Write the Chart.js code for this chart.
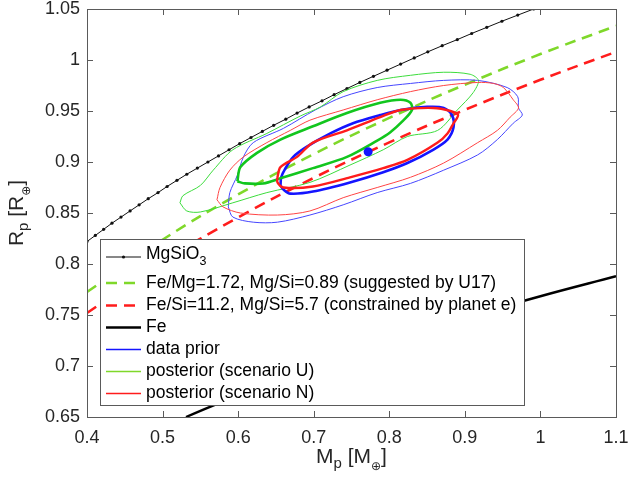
<!DOCTYPE html>
<html lang="en">
<head>
<meta charset="UTF-8">
<title>Mass-radius</title>
<script src="https://cdn.jsdelivr.net/npm/chart.js"></script>
<style>
  html, body { margin: 0; padding: 0; background: #fff; }
  #wrap { width: 629px; height: 482px; }
</style>
</head>
<body>
<div id="wrap"><canvas id="mr" width="629" height="482"></canvas></div>
<script>
// axis ticks
const xTicks = [0.4, 0.5, 0.6, 0.7, 0.8, 0.9, 1.0, 1.1];
const xTickLabels = ['0.4', '0.5', '0.6', '0.7', '0.8', '0.9', '1', '1.1'];
const yTicks = [0.65, 0.7, 0.75, 0.8, 0.85, 0.9, 0.95, 1.0, 1.05];
const yTickLabels = ['0.65', '0.7', '0.75', '0.8', '0.85', '0.9', '0.95', '1', '1.05'];

// MgSiO3 curve (dotted markers)
const massMgSiO3 = [0.400, 0.411, 0.422, 0.433, 0.445, 0.457, 0.469, 0.481, 0.494, 0.506, 0.519, 0.532, 0.546,
  0.560, 0.574, 0.588, 0.602, 0.617, 0.632, 0.647, 0.663, 0.678, 0.694, 0.711, 0.727, 0.744, 0.761, 0.779,
  0.797, 0.815, 0.833, 0.851, 0.870, 0.890, 0.909, 0.929, 0.949, 0.970, 0.991];
const radiusMgSiO3 = [0.822, 0.828, 0.834, 0.840, 0.846, 0.852, 0.858, 0.864, 0.870, 0.876, 0.882, 0.888, 0.894,
  0.900, 0.906, 0.912, 0.918, 0.924, 0.930, 0.936, 0.942, 0.948, 0.954, 0.960, 0.966, 0.972, 0.978, 0.984,
  0.990, 0.996, 1.002, 1.008, 1.014, 1.020, 1.026, 1.032, 1.038, 1.044, 1.050];

// composition models
const massModel = [0.4, 0.5, 0.6, 0.7, 0.8, 0.9, 1.0, 1.1];
const radiusFeMg = [0.7725, 0.8238, 0.8682, 0.9078, 0.9432, 0.9758, 1.0058, 1.0335];
const radiusFeSi = [0.752, 0.8022, 0.8457, 0.8844, 0.9192, 0.9511, 0.9806, 1.008];
const massFe = [0.531, 0.6, 0.7, 0.8, 0.9, 1.0, 1.1];
const radiusFe = [0.65, 0.6713, 0.6993, 0.7243, 0.7473, 0.7684, 0.788];

// contours: data prior (blue)
const priorOuterM = [0.587, 0.589, 0.599, 0.607, 0.620, 0.660, 0.702, 0.739, 0.784, 0.828, 0.872, 0.917, 0.956,
  0.970, 0.971, 0.976, 0.964, 0.943, 0.917, 0.872, 0.828, 0.784, 0.739, 0.695, 0.652, 0.620, 0.593, 0.587];
const priorOuterR = [0.856, 0.870, 0.887, 0.905, 0.919, 0.933, 0.951, 0.964, 0.973, 0.977, 0.980, 0.980, 0.973,
  0.964, 0.953, 0.946, 0.938, 0.922, 0.907, 0.892, 0.879, 0.870, 0.858, 0.848, 0.841, 0.841, 0.846, 0.856];
const priorInnerM = [0.656, 0.657, 0.662, 0.673, 0.691, 0.722, 0.752, 0.788, 0.815, 0.850, 0.872, 0.883, 0.885,
  0.877, 0.858, 0.824, 0.792, 0.748, 0.699, 0.669, 0.660, 0.656];
const priorInnerR = [0.877, 0.885, 0.893, 0.905, 0.915, 0.928, 0.938, 0.946, 0.951, 0.954, 0.953, 0.946, 0.934,
  0.922, 0.912, 0.899, 0.890, 0.880, 0.871, 0.869, 0.873, 0.877];

// contours: posterior scenario U (green)
const postUOuterM = [0.523, 0.527, 0.550, 0.567, 0.593, 0.638, 0.682, 0.709, 0.739, 0.784, 0.828, 0.872, 0.907,
  0.918, 0.911, 0.890, 0.864, 0.824, 0.792, 0.748, 0.695, 0.638, 0.593, 0.550, 0.532, 0.523];
const postUOuterR = [0.860, 0.867, 0.877, 0.892, 0.912, 0.928, 0.945, 0.954, 0.969, 0.980, 0.985, 0.988, 0.986,
  0.980, 0.968, 0.951, 0.931, 0.925, 0.912, 0.897, 0.880, 0.870, 0.860, 0.851, 0.852, 0.860];
const postUInnerM = [0.599, 0.603, 0.625, 0.656, 0.699, 0.744, 0.788, 0.815, 0.828, 0.830, 0.819, 0.801, 0.784,
  0.744, 0.699, 0.656, 0.633, 0.609, 0.599];
const postUInnerR = [0.881, 0.895, 0.909, 0.922, 0.935, 0.948, 0.958, 0.961, 0.958, 0.951, 0.941, 0.929, 0.921,
  0.905, 0.894, 0.884, 0.879, 0.879, 0.881];

// contours: posterior scenario N (red)
const postNOuterM = [0.572, 0.576, 0.589, 0.607, 0.638, 0.669, 0.695, 0.739, 0.784, 0.828, 0.872, 0.917, 0.938,
  0.951, 0.964, 0.971, 0.960, 0.943, 0.917, 0.872, 0.828, 0.784, 0.739, 0.695, 0.652, 0.603, 0.580, 0.572];
const postNOuterR = [0.863, 0.875, 0.892, 0.905, 0.919, 0.931, 0.941, 0.951, 0.961, 0.969, 0.975, 0.978, 0.977,
  0.973, 0.961, 0.953, 0.944, 0.931, 0.919, 0.899, 0.885, 0.875, 0.865, 0.852, 0.848, 0.850, 0.856, 0.863];
const postNInnerM = [0.652, 0.656, 0.678, 0.699, 0.744, 0.788, 0.815, 0.858, 0.881, 0.891, 0.885, 0.877, 0.864,
  0.824, 0.792, 0.748, 0.699, 0.660, 0.652, 0.652];
const postNInnerR = [0.885, 0.895, 0.905, 0.919, 0.931, 0.944, 0.951, 0.953, 0.950, 0.946, 0.938, 0.928, 0.919,
  0.902, 0.894, 0.885, 0.876, 0.875, 0.880, 0.885];

// measured planet
const planetM = [0.772];
const planetR = [0.910];

const FONT = "'Liberation Sans', Arial, 'DejaVu Sans', sans-serif";
const INK = '#262626';
const LIME = '#7fd82a';
const RED = '#ff1c1c';
const BLUE = '#1414ff';
const GREEN = '#12c61e';

function pts(xs, ys) {
  return xs.map((x, i) => ({ x: x, y: ys[i] }));
}

function line(xs, ys, color, width, extra) {
  return Object.assign({
    data: pts(xs, ys),
    showLine: true,
    borderColor: color,
    backgroundColor: color,
    borderWidth: width,
    pointRadius: 0,
    tension: 0.3,
    clip: 0
  }, extra || {});
}

// bottom to top, reversed below so the last one ends up on top
const layers = [
  line(massMgSiO3, radiusMgSiO3, '#111', 1, { pointRadius: 1.6, pointBackgroundColor: '#111', pointBorderWidth: 0, tension: 0 }),
  line(massModel, radiusFeMg, LIME, 2.6, { borderDash: [11, 7], tension: 0.4 }),
  line(massModel, radiusFeSi, RED, 2.6, { borderDash: [11, 7], tension: 0.4 }),
  line(massFe, radiusFe, '#000', 2.4, { tension: 0.4 }),
  line(priorOuterM, priorOuterR, '#4646ff', 1),
  line(postUOuterM, postUOuterR, '#3cdc3c', 1),
  line(postNOuterM, postNOuterR, '#ff4444', 1),
  line(priorInnerM, priorInnerR, BLUE, 2.6),
  line(postUInnerM, postUInnerR, GREEN, 2.6),
  line(postNInnerM, postNInnerR, RED, 2.4),
  { data: pts(planetM, planetR), pointRadius: 4.5, pointBackgroundColor: BLUE, pointBorderWidth: 0, showLine: false }
];

// legend rows
const legendItems = [
  { parts: [{ t: 'MgSiO' }, { t: '3', sub: true }], color: '#111', width: 1, dot: true, y: 257 },
  { parts: [{ t: 'Fe/Mg=1.72, Mg/Si=0.89 (suggested by U17)' }], color: LIME, width: 2.6, dash: [11, 7], y: 283 },
  { parts: [{ t: 'Fe/Si=11.2, Mg/Si=5.7 (constrained by planet e)' }], color: RED, width: 2.6, dash: [11, 7], y: 305.5 },
  { parts: [{ t: 'Fe' }], color: '#000', width: 2.4, y: 327.5 },
  { parts: [{ t: 'data prior' }], color: BLUE, width: 1.5, y: 349.5 },
  { parts: [{ t: 'posterior (scenario U)' }], color: LIME, width: 1.5, y: 371.5 },
  { parts: [{ t: 'posterior (scenario N)' }], color: RED, width: 1.5, y: 393.5 }
];

function richWidth(ctx, parts) {
  let w = 0;
  parts.forEach(p => {
    ctx.font = p.size + 'px ' + FONT;
    w += ctx.measureText(p.t).width;
  });
  return w;
}

function drawRich(ctx, parts, x, y) {
  parts.forEach(p => {
    ctx.font = p.size + 'px ' + FONT;
    ctx.fillText(p.t, x, y + (p.dy || 0));
    x += ctx.measureText(p.t).width;
  });
}

const frame = {
  id: 'frame',
  afterDatasetsDraw(chart) {
    const ctx = chart.ctx;
    const a = chart.chartArea;
    const xs = chart.scales.x, ys = chart.scales.y;
    ctx.save();

    // legend box
    const L = { left: 100, top: 239, right: 524, bottom: 405 };
    ctx.fillStyle = '#fff';
    ctx.fillRect(L.left, L.top, L.right - L.left, L.bottom - L.top);
    ctx.strokeStyle = '#5a5a5a';
    ctx.lineWidth = 1;
    ctx.strokeRect(L.left + 0.5, L.top + 0.5, L.right - L.left, L.bottom - L.top);
    legendItems.forEach(it => {
      ctx.beginPath();
      ctx.strokeStyle = it.color;
      ctx.lineWidth = it.width;
      ctx.setLineDash(it.dash || []);
      ctx.moveTo(106, it.y);
      ctx.lineTo(141, it.y);
      ctx.stroke();
      ctx.setLineDash([]);
      if (it.dot) {
        ctx.beginPath();
        ctx.fillStyle = it.color;
        ctx.arc(123.5, it.y, 1.6, 0, Math.PI * 2);
        ctx.fill();
      }
      ctx.fillStyle = '#000';
      ctx.textAlign = 'left';
      ctx.textBaseline = 'middle';
      const parts = it.parts.map(p => p.sub ? { t: p.t, size: 12.5, dy: 5 } : { t: p.t, size: 17.5, dy: it.dot ? -3 : 0 });
      drawRich(ctx, parts, 146, it.y);
    });

    // axes box
    ctx.strokeStyle = '#5a5a5a';
    ctx.lineWidth = 1;
    ctx.strokeRect(Math.round(a.left) + 0.5, Math.round(a.top) + 0.5, Math.round(a.right - a.left), Math.round(a.bottom - a.top));

    // inward ticks on all four sides
    ctx.beginPath();
    xTicks.forEach(v => {
      const px = Math.round(xs.getPixelForValue(v)) + 0.5;
      ctx.moveTo(px, a.bottom); ctx.lineTo(px, a.bottom - 6);
      ctx.moveTo(px, a.top); ctx.lineTo(px, a.top + 6);
    });
    yTicks.forEach(v => {
      const py = Math.round(ys.getPixelForValue(v)) + 0.5;
      ctx.moveTo(a.left, py); ctx.lineTo(a.left + 6, py);
      ctx.moveTo(a.right, py); ctx.lineTo(a.right - 6, py);
    });
    ctx.stroke();

    // tick labels
    ctx.fillStyle = INK;
    ctx.font = '18px ' + FONT;
    ctx.textAlign = 'center';
    ctx.textBaseline = 'alphabetic';
    xTicks.forEach((v, i) => ctx.fillText(xTickLabels[i], xs.getPixelForValue(v), a.bottom + 26));
    ctx.textAlign = 'right';
    ctx.textBaseline = 'middle';
    yTicks.forEach((v, i) => ctx.fillText(yTickLabels[i], a.left - 7, ys.getPixelForValue(v)));

    // axis titles
    ctx.textAlign = 'left';
    ctx.textBaseline = 'alphabetic';
    const xl = [{ t: 'M', size: 21 }, { t: 'p', size: 15, dy: 5 }, { t: ' [M', size: 21 }, { t: '\u2295', size: 12, dy: 7 }, { t: ']', size: 21 }];
    drawRich(ctx, xl, (a.left + a.right) / 2 - richWidth(ctx, xl) / 2, 463);
    const yl = [{ t: 'R', size: 21 }, { t: 'p', size: 15, dy: 5 }, { t: ' [R', size: 21 }, { t: '\u2295', size: 12, dy: 7 }, { t: ']', size: 21 }];
    ctx.translate(23, (a.top + a.bottom) / 2);
    ctx.rotate(-Math.PI / 2);
    drawRich(ctx, yl, -richWidth(ctx, yl) / 2, 0);
    ctx.restore();
  }
};

new Chart(document.getElementById('mr').getContext('2d'), {
  type: 'scatter',
  data: { datasets: layers.slice().reverse() },
  options: {
    responsive: false,
    animation: false,
    events: [],
    layout: { padding: { left: 87, top: 9, right: 13, bottom: 65 } },
    plugins: { legend: { display: false }, tooltip: { enabled: false } },
    scales: {
      x: { type: 'linear', min: 0.4, max: 1.1, display: false },
      y: { type: 'linear', min: 0.65, max: 1.05, display: false }
    }
  },
  plugins: [frame]
});
</script>
</body>
</html>
